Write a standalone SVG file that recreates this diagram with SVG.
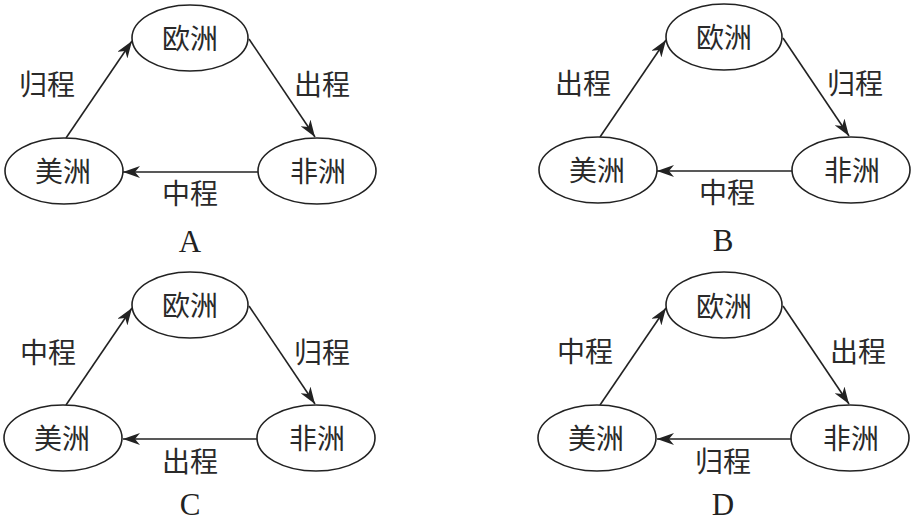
<svg xmlns="http://www.w3.org/2000/svg" width="916" height="523" viewBox="0 0 916 523">
<defs>
<marker id="arr" viewBox="0 0 17 12" refX="17" refY="6" markerWidth="17" markerHeight="12" markerUnits="userSpaceOnUse" orient="auto">
<path d="M0,0 L17,6 L0,12 L5,6 z" fill="#222"/>
</marker>
</defs>
<style>
.node ellipse{fill:#fff;stroke:#222;stroke-width:1.6}
.zh{font-family:"Noto Sans CJK SC","Noto Sans CJK JP",sans-serif;font-size:28px;fill:#2a2a2a;text-anchor:middle}
.lt{font-family:"Liberation Serif",serif;font-size:31px;fill:#222;text-anchor:middle}
.edge{fill:none;stroke:#222;stroke-width:1.6;marker-end:url(#arr)}
</style>
<rect width="916" height="523" fill="#fff"/>

<!-- Panel A -->
<g id="panelA">
<g id="A-edges">
<path class="edge" d="M66,138 L132,41"/>
<path class="edge" d="M249,39 L315,137"/>
<path class="edge" d="M258,172 L123,172"/>
</g>
<g id="A-europe" class="node"><ellipse cx="190" cy="38" rx="58" ry="33"/><text class="zh" x="190" y="49">欧洲</text></g>
<g id="A-america" class="node"><ellipse cx="64" cy="171" rx="59" ry="33"/><text class="zh" x="63" y="182">美洲</text></g>
<g id="A-africa" class="node"><ellipse cx="317" cy="171" rx="59" ry="33"/><text class="zh" x="318" y="182">非洲</text></g>
<text class="zh" x="47" y="95">归程</text>
<text class="zh" x="322" y="95">出程</text>
<text class="zh" x="190" y="204">中程</text>
<text class="lt" x="190" y="252">A</text>
</g>

<!-- Panel B -->
<g id="panelB" transform="translate(534,-1)">
<g id="B-edges">
<path class="edge" d="M66,138 L132,41"/>
<path class="edge" d="M249,39 L315,137"/>
<path class="edge" d="M258,172 L123,172"/>
</g>
<g id="B-europe" class="node"><ellipse cx="190" cy="38" rx="58" ry="33"/><text class="zh" x="190" y="49">欧洲</text></g>
<g id="B-america" class="node"><ellipse cx="64" cy="171" rx="59" ry="33"/><text class="zh" x="63" y="182">美洲</text></g>
<g id="B-africa" class="node"><ellipse cx="317" cy="171" rx="59" ry="33"/><text class="zh" x="318" y="182">非洲</text></g>
<text class="zh" x="49" y="95">出程</text>
<text class="zh" x="321" y="95">归程</text>
<text class="zh" x="193" y="204">中程</text>
<text class="lt" x="189" y="252">B</text>
</g>

<!-- Panel C -->
<g id="panelC" transform="translate(0,267)">
<g id="C-edges">
<path class="edge" d="M66,138 L132,41"/>
<path class="edge" d="M249,39 L315,137"/>
<path class="edge" d="M258,172 L123,172"/>
</g>
<g id="C-europe" class="node"><ellipse cx="190" cy="38" rx="58" ry="33"/><text class="zh" x="190" y="49">欧洲</text></g>
<g id="C-america" class="node"><ellipse cx="63" cy="171" rx="59" ry="33"/><text class="zh" x="62" y="182">美洲</text></g>
<g id="C-africa" class="node"><ellipse cx="316" cy="171" rx="59" ry="33"/><text class="zh" x="317" y="182">非洲</text></g>
<text class="zh" x="48" y="96">中程</text>
<text class="zh" x="322" y="96">归程</text>
<text class="zh" x="190" y="205">出程</text>
<text class="lt" x="190" y="248">C</text>
</g>

<!-- Panel D -->
<g id="panelD" transform="translate(534,267)">
<g id="D-edges">
<path class="edge" d="M66,138 L132,41"/>
<path class="edge" d="M249,39 L315,137"/>
<path class="edge" d="M258,172 L123,172"/>
</g>
<g id="D-europe" class="node"><ellipse cx="190" cy="38" rx="58" ry="33"/><text class="zh" x="190" y="50">欧洲</text></g>
<g id="D-america" class="node"><ellipse cx="63" cy="171" rx="59" ry="33"/><text class="zh" x="62" y="182">美洲</text></g>
<g id="D-africa" class="node"><ellipse cx="316" cy="171" rx="59" ry="33"/><text class="zh" x="317" y="182">非洲</text></g>
<text class="zh" x="51" y="95">中程</text>
<text class="zh" x="324" y="95">出程</text>
<text class="zh" x="189" y="205">归程</text>
<text class="lt" x="189" y="248">D</text>
</g>
</svg>
